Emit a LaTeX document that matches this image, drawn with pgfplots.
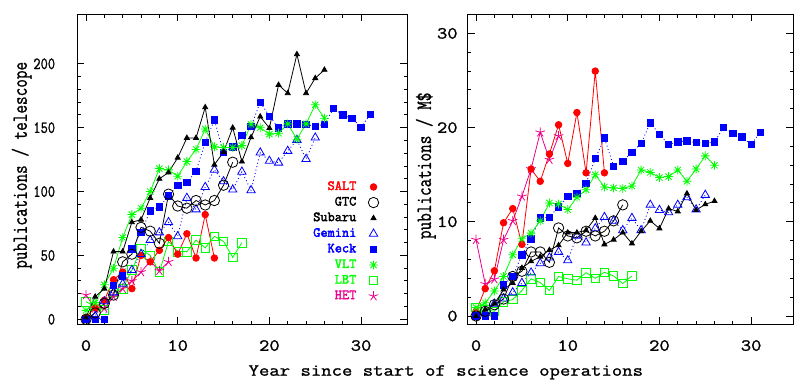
\documentclass[border=0pt]{standalone}
\usepackage{fontspec}
\usepackage{graphicx}
\usepackage{pgfplots}
\pgfplotsset{compat=1.18}

% slightly heavier text (fill + thin stroke)
\newcommand{\hv}[2][0.2]{\special{pdf:literal direct 2 Tr #1 w}#2\special{pdf:literal direct 0 Tr}}

% eight-armed asterisk for VLT
\pgfdeclareplotmark{ast8}{%
  \pgfpathmoveto{\pgfqpoint{-\pgfplotmarksize}{0pt}}\pgfpathlineto{\pgfqpoint{\pgfplotmarksize}{0pt}}%
  \pgfpathmoveto{\pgfqpoint{0pt}{-\pgfplotmarksize}}\pgfpathlineto{\pgfqpoint{0pt}{\pgfplotmarksize}}%
  \pgfpathmoveto{\pgfqpoint{-0.707\pgfplotmarksize}{-0.707\pgfplotmarksize}}\pgfpathlineto{\pgfqpoint{0.707\pgfplotmarksize}{0.707\pgfplotmarksize}}%
  \pgfpathmoveto{\pgfqpoint{-0.707\pgfplotmarksize}{0.707\pgfplotmarksize}}\pgfpathlineto{\pgfqpoint{0.707\pgfplotmarksize}{-0.707\pgfplotmarksize}}%
  \pgfusepathqstroke}

\pgfplotsset{
  pub/.style={scale only axis, height=310bp, tick align=inside,
    xtick={0,10,20,30}, minor x tick num=4,
    major tick length=7bp, minor tick length=3.5bp,
    axis line style={line width=1.3bp},
    every tick/.style={black, line width=1bp},
    /pgf/number format/assume math mode=true,
    tick label style={font=\ttfamily\fontsize{17}{19}\selectfont},
    xticklabel={\scalebox{1.18}[1]{\hv{\pgfmathprintnumber{\tick}}}},
    xticklabel style={anchor=north, inner sep=0pt, yshift=-15.7bp},
  },
  salt/.style={red, line width=0.8bp, mark=*, mark size=3.3bp},
  gtc/.style={black, line width=0.8bp, mark=o, mark size=5.2bp},
  subaru/.style={black, line width=0.8bp, mark=triangle*, mark size=2.9bp},
  gemini/.style={blue, line width=0.8bp, dash pattern=on 1bp off 2.5bp, mark=triangle, mark size=4.8bp, mark options={solid}},
  keck/.style={blue, line width=0.8bp, dash pattern=on 1bp off 2.5bp, mark=square*, mark size=3.2bp, mark options={solid}},
  vlt/.style={green, line width=0.8bp, mark=ast8, mark size=4.4bp},
  lbt/.style={green, line width=0.8bp, mark=square, mark size=4.3bp},
  het/.style={magenta, line width=0.8bp, mark=star, mark size=5bp},
}

\begin{document}
\begin{tikzpicture}
\useasboundingbox (0,0) rectangle (798bp,382bp);

% ---- left: publications per telescope
\begin{axis}[pub, at={(77.3bp,57.7bp)}, width=330bp,
    xmin=-0.95, xmax=35.04, ymin=-3.9, ymax=238.8,
    ytick={0,50,100,150,200}, minor y tick num=4,
    yticklabel={\scalebox{0.83}[1]{\hv{\pgfmathprintnumber{\tick}}}},
    yticklabel style={anchor=east, inner sep=0pt, xshift=-22bp},
    legend style={draw=none, fill=none, inner sep=0pt, at={(0.914,0.463)}, anchor=north east,
      font=\ttfamily\fontsize{14}{15}\selectfont, row sep=3.6bp, column sep=11bp,
      nodes={inner sep=1bp, text height=8bp, text depth=2bp}},
    legend plot pos=right, legend cell align=right]
\addplot[lbt, forget plot] coordinates {(0,13.8)(1,10)(2,7.3)(3,21)(4,24)(5,38.6)(6,55)(7,50)(8,37)(9,61)(10,53)(11,53)(12,62)(13,56)(14,65)(15,61)(16,48.5)(17,60)};
\addplot[het, forget plot] coordinates {(0,19)(1,8.6)(2,8.6)(3,17.7)(4,24)(5,30)(6,37)(7,45.5)(8,38)(9,45)};
\addplot[salt, forget plot] coordinates {(0,1.6)(1,9)(2,15)(3,31)(4,37)(5,24)(6,50)(7,45)(8,54)(9,64)(10,51)(11,67)(12,48)(13,82)(14,48)};
\addplot[gemini, forget plot] coordinates {(0,0)(1,2.6)(2,14)(3,21)(4,27.7)(5,38.6)(6,51)(7,62)(8,68)(9,76)(10,65)(11,95)(12,86)(13,103.5)(14,117)(15,108)(16,101.5)(17,115.5)(18,101)(19,130.5)(20,124)(21,122.6)(22,131.8)(23,140.4)(24,125.5)(25,142.2)};
\addplot[keck, forget plot] coordinates {(0,0)(1,0)(2,0)(3,26.6)(4,34)(5,55)(6,68)(7,85)(8,88)(9,96.5)(10,105)(11,107)(12,116)(13,138.6)(14,156)(15,130.5)(16,135)(17,144)(18,151)(19,170)(20,159)(21,150)(22,153)(23,153)(24,152.7)(25,151)(26,152.7)(27,165)(28,160)(29,157.4)(30,150.4)(31,160.5)};
\addplot[gtc, forget plot] coordinates {(0,0)(1,5)(2,12.5)(3,19)(4,45)(5,51)(6,72)(7,69)(8,59.5)(9,98)(10,88.7)(11,87)(12,93)(13,89.5)(14,93)(15,105)(16,123)};
\addplot[vlt, forget plot] coordinates {(0,7)(1,13)(2,27)(3,40)(4,64)(5,82)(6,87)(7,100)(8,118)(9,117)(10,112)(11,123.5)(12,133)(13,149)(14,135)(15,134.5)(16,134.5)(17,136)(18,152.7)(19,150)(20,145)(21,145.7)(22,153)(23,141)(24,153)(25,168)(26,157.4)};
\addplot[subaru, forget plot] coordinates {(0,1.5)(1,17.7)(2,24)(3,53)(4,53)(5,76)(6,78)(7,95)(8,110)(9,115)(10,126.5)(11,142)(12,142)(13,166)(14,121)(15,131)(16,150)(17,123.5)(18,142.5)(19,158.7)(20,149.7)(21,183.5)(22,177)(23,207.5)(24,177)(25,188.8)(26,195.3)};
\addlegendimage{salt, only marks}\addlegendentry{\textcolor{red}{\hv[0.35]{SALT}}}
\addlegendimage{gtc, only marks}\addlegendentry{\hv[0.35]{GTC}}
\addlegendimage{subaru, only marks}\addlegendentry{\hv[0.35]{Subaru}}
\addlegendimage{gemini, only marks}\addlegendentry{\textcolor{blue}{\hv[0.35]{Gemini}}}
\addlegendimage{keck, only marks}\addlegendentry{\textcolor{blue}{\hv[0.35]{Keck}}}
\addlegendimage{vlt, only marks}\addlegendentry{\textcolor{green}{\hv[0.35]{VLT}}}
\addlegendimage{lbt, only marks}\addlegendentry{\textcolor{green}{\hv[0.35]{LBT}}}
\addlegendimage{het, only marks}\addlegendentry{\textcolor{magenta}{\hv[0.35]{HET}}}
\end{axis}

% ---- right: publications per million dollars
\begin{axis}[pub, at={(467.8bp,57.7bp)}, width=325.5bp,
    xmin=-0.9, xmax=34.6, ymin=-0.88, ymax=32.03,
    ytick={0,10,20,30}, minor y tick num=4,
    yticklabel={\scalebox{1.18}[1]{\hv{\pgfmathprintnumber{\tick}}}},
    yticklabel style={anchor=east, inner sep=0pt, xshift=-10bp}]
\addplot[lbt] coordinates {(0,0.9)(1,0.7)(2,0.5)(3,1.5)(4,1.75)(5,2.7)(6,3.95)(7,3.55)(8,2.7)(9,4.2)(10,3.95)(11,3.8)(12,4.6)(13,4.0)(14,4.65)(15,4.25)(16,3.45)(17,4.25)};
\addplot[het] coordinates {(0,8.1)(1,3.4)(2,3.9)(3,8.1)(4,10.1)(5,12.7)(6,15.6)(7,19.5)(8,16.6)(9,19.1)};
\addplot[salt] coordinates {(0,0.5)(1,2.9)(2,4.8)(3,9.9)(4,11.4)(5,7.6)(6,15.6)(7,14.3)(8,17.2)(9,20.3)(10,16.2)(11,21.6)(12,15.2)(13,26)(14,15.2)};
\addplot[gemini] coordinates {(0,0)(1,0.3)(2,1.3)(3,1.85)(4,2.5)(5,3.5)(6,4.6)(7,5.6)(8,6.2)(9,6.8)(10,5.9)(11,8.5)(12,7.8)(13,9.3)(14,10.5)(15,10.1)(16,9.1)(17,10.4)(18,9.1)(19,11.8)(20,11.25)(21,11)(22,11.8)(23,12.6)(24,11.3)(25,12.85)};
\addplot[keck] coordinates {(0,0)(1,0)(2,0)(3,3.3)(4,4.2)(5,6.5)(6,8.2)(7,10.4)(8,10.5)(9,11.6)(10,12.7)(11,13)(12,14.1)(13,16.7)(14,18.9)(15,15.9)(16,16.4)(17,17.4)(18,18.3)(19,20.5)(20,19.3)(21,18.2)(22,18.5)(23,18.6)(24,18.4)(25,18.3)(26,18.5)(27,20)(28,19.4)(29,19)(30,18.2)(31,19.5)};
\addplot[gtc] coordinates {(0,0)(1,0.5)(2,1.2)(3,1.8)(4,4.2)(5,4.75)(6,6.8)(7,6.8)(8,5.7)(9,9.35)(10,8.5)(11,8.3)(12,9)(13,8.5)(14,9)(15,10.1)(16,11.8)};
\addplot[vlt] coordinates {(0,0.9)(1,1.4)(2,2.65)(3,4.2)(4,6.5)(5,8.2)(6,8.8)(7,10.1)(8,12)(9,11.9)(10,11.3)(11,12.6)(12,13.4)(13,15)(14,13.7)(15,13.6)(16,13.55)(17,13.8)(18,15.5)(19,15.25)(20,14.7)(21,14.8)(22,15.5)(23,14.3)(24,15.6)(25,17)(26,16)};
\addplot[subaru] coordinates {(0,0)(1,0.7)(2,1.3)(3,2.8)(4,3.5)(5,5.1)(6,5.8)(7,6.3)(8,7)(9,7.5)(10,8.85)(11,8.85)(12,9.1)(13,10.4)(14,7.6)(15,8.1)(16,8.85)(17,7.7)(18,9.0)(19,10.1)(20,9.3)(21,11.4)(22,11.1)(23,13.0)(24,11.25)(25,11.85)(26,12.2)};
\end{axis}

\node[rotate=90, font=\ttfamily\fontsize{16.8}{18}\selectfont] at (21.7bp,216.7bp) {\scalebox{1}[1.3]{\hv{publications / telescope}}};
\node[rotate=90, font=\ttfamily\fontsize{16.8}{18}\selectfont] at (425.8bp,216.2bp) {\scalebox{1}[1.3]{\hv{publications / M\$}}};
\node[anchor=base, font=\ttfamily\fontsize{17}{20}\selectfont] at (445.8bp,6.3bp) {\scalebox{1.19}[1]{\hv{Year since start of science operations}}};
\end{tikzpicture}
\end{document}
